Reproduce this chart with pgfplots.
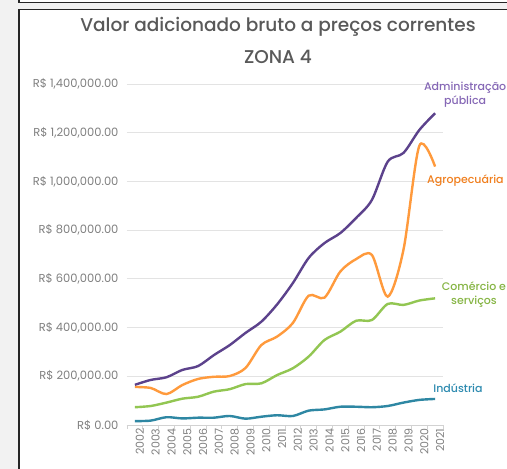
\documentclass[border=0pt]{standalone}
\usepackage{pgfplots}
\pgfplotsset{compat=1.18}
\usepackage{fontspec}
\setmainfont{Poppins}
\newfontfamily\titlefont{Poppins Medium}

\definecolor{admline}{RGB}{92,66,140}
\definecolor{agroline}{RGB}{255,154,60}
\definecolor{comline}{RGB}{146,198,82}
\definecolor{indline}{RGB}{46,135,163}
\definecolor{admtxt}{RGB}{134,104,182}
\definecolor{agrotxt}{RGB}{240,127,30}
\definecolor{comtxt}{RGB}{134,181,68}
\definecolor{indtxt}{RGB}{46,139,176}
\definecolor{titletxt}{RGB}{89,89,89}
\definecolor{ticktxt}{RGB}{128,128,128}

\begin{document}
\begin{tikzpicture}[x=1pt,y=1pt]
\useasboundingbox (0,0) rectangle (507,469);
\fill[black!5] (0,0) rectangle (507,469);
\fill[white] (19,0) rectangle (507,459.7);
\fill[white] (19,466.3) rectangle (507,469);
\draw[black!85, line width=1.2pt] (19,0) -- (19,459.7) -- (512,459.7);
\draw[black!85, line width=1.2pt] (19,470) -- (19,466.3) -- (512,466.3);

\begin{axis}[
    at={(127pt,44pt)}, anchor=south west,
    scale only axis,
    width=316pt, height=341pt,
    xmin=2001.5, xmax=2021.5,
    ymin=0, ymax=1400000,
    scaled y ticks=false,
    clip=false,
    axis lines*=left,
    y axis line style={draw=none},
    x axis line style={gray!35, line width=0.8pt},
    ymajorgrids,
    grid style={gray!22, line width=0.8pt},
    ytick={0,200000,400000,600000,800000,1000000,1200000,1400000},
    yticklabels={{R\$ 0.00},{R\$ 200,000.00},{R\$ 400,000.00},{R\$ 600,000.00},{R\$ 800,000.00},{R\$ 1,000,000.00},{R\$ 1,200,000.00},{R\$ 1,400,000.00}},
    xtick={2002,2003,...,2021},
    minor xtick={2001.5,2002.5,...,2021.5},
    major tick length=0pt,
    minor tick length=4pt,
    tick align=outside,
    minor x tick style={gray!35, line width=0.8pt},
    /pgf/number format/assume math mode=true,
    xticklabel style={/pgf/number format/1000 sep={}, rotate=90, anchor=east, font=\fontsize{11}{13}\selectfont, text=ticktxt, yshift=-5pt},
    yticklabel style={font=\fontsize{11.5}{13}\selectfont, text=ticktxt, xshift=-5pt},
    every axis plot/.append style={line width=2.4pt, smooth, tension=0.5},
]
% Administração pública
\addplot[admline] coordinates {
(2002,165000) (2003,185000) (2004,196000) (2005,226000) (2006,242000)
(2007,287000) (2008,328000) (2009,378000) (2010,424000) (2011,495000)
(2012,583000) (2013,686000) (2014,747000) (2015,788000) (2016,850000)
(2017,924000) (2018,1081000) (2019,1117000) (2020,1211000) (2021,1280000)};
% Agropecuária
\addplot[agroline] coordinates {
(2002,156000) (2003,152000) (2004,127000) (2005,164000) (2006,189000)
(2007,198000) (2008,201000) (2009,234000) (2010,328000) (2011,363000)
(2012,419000) (2013,531000) (2014,523000) (2015,630000) (2016,681000)
(2017,698000) (2018,527000) (2019,720000) (2020,1146000) (2021,1061000)};
% Comércio e serviços
\addplot[comline] coordinates {
(2002,73000) (2003,78000) (2004,92000) (2005,108000) (2006,116000)
(2007,137000) (2008,147000) (2009,168000) (2010,171000) (2011,205000)
(2012,233000) (2013,281000) (2014,349000) (2015,383000) (2016,428000)
(2017,431000) (2018,497000) (2019,493000) (2020,511000) (2021,520000)};
% Indústria
\addplot[indline] coordinates {
(2002,16000) (2003,18000) (2004,32000) (2005,27000) (2006,30000)
(2007,30000) (2008,37000) (2009,26000) (2010,34000) (2011,40000)
(2012,37000) (2013,59000) (2014,64000) (2015,75000) (2016,75000)
(2017,73000) (2018,78000) (2019,92000) (2020,103000) (2021,107000)};

\node[admtxt, align=center, font=\titlefont\fontsize{11}{14}\selectfont] at (axis cs:2022.9,1355000) {Administração\\pública};
\node[agrotxt, anchor=west, inner sep=0pt, font=\titlefont\fontsize{11}{14}\selectfont] at (axis cs:2020.49,1002000) {Agropecuária};
\node[comtxt, align=center, font=\titlefont\fontsize{11}{14}\selectfont] at (axis cs:2023.46,534000) {Comércio e\\serviços};
\node[indtxt, font=\titlefont\fontsize{11}{14}\selectfont] at (axis cs:2022.45,152000) {Indústria};
\end{axis}

\node[titletxt, font=\titlefont\fontsize{18.5}{22}\selectfont] at (278,442) {Valor adicionado bruto a preços correntes};
\node[titletxt, font=\titlefont\fontsize{18.5}{22}\selectfont] at (278,412) {ZONA 4};
\end{tikzpicture}
\end{document}
